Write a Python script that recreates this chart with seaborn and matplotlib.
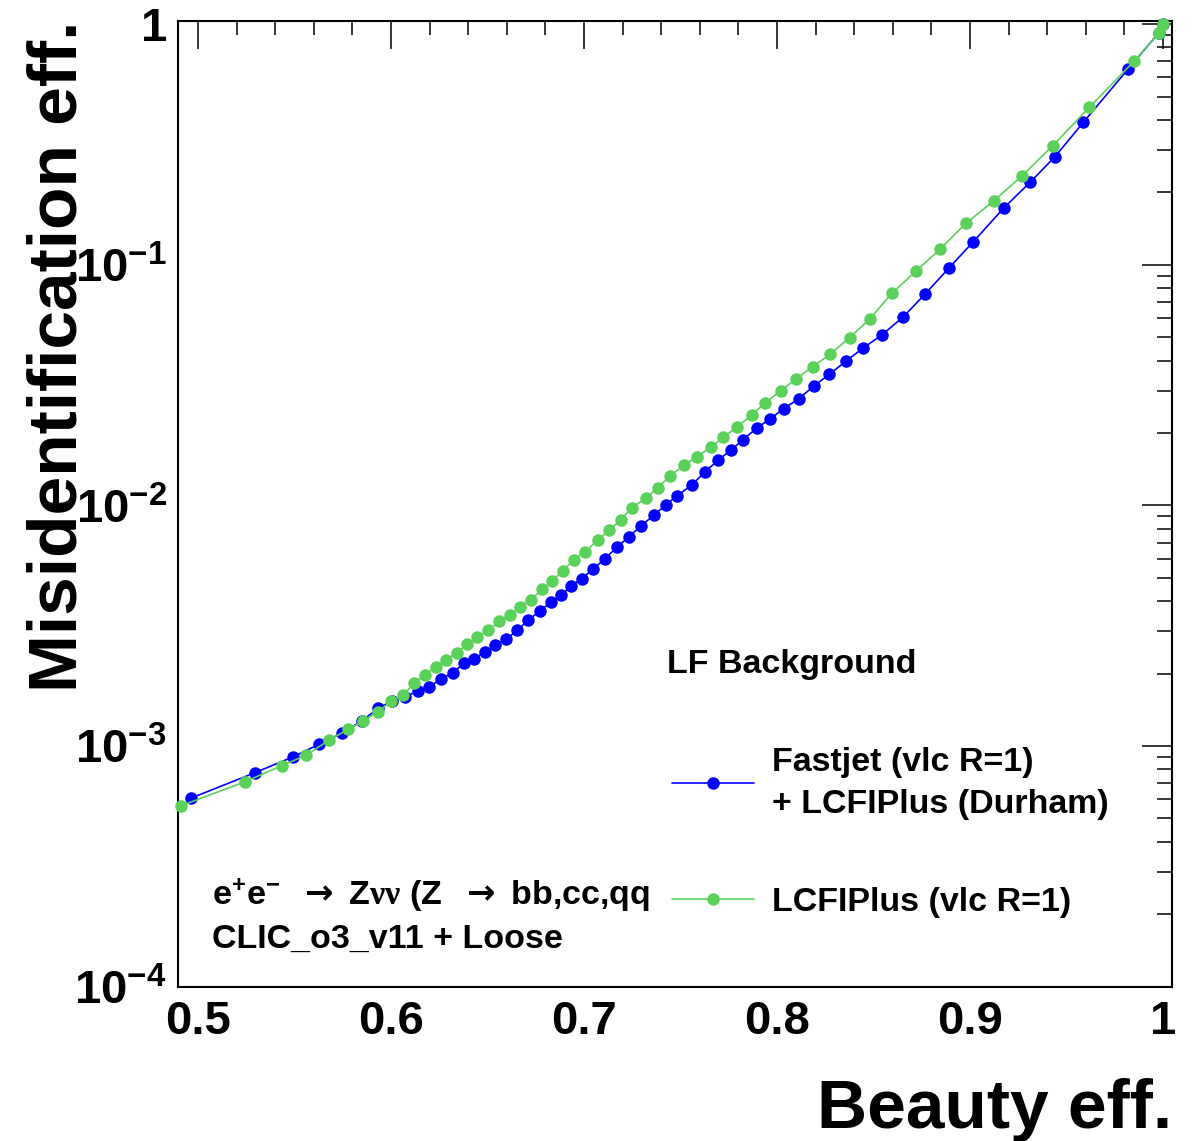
import matplotlib
matplotlib.use("Agg")
import numpy as np
import pandas as pd
import matplotlib.pyplot as plt
import seaborn as sns
from matplotlib.ticker import FixedLocator, FixedFormatter, MultipleLocator, LogLocator, NullFormatter

# ---------------- data ----------------
fastjet_beff = [0.4962, 0.5295, 0.5494, 0.5628, 0.5745, 0.5848, 0.5934, 0.6004, 0.6073, 0.6141,
                0.6198, 0.6259, 0.6319, 0.6377, 0.6432, 0.6486, 0.6539, 0.6596, 0.6653, 0.6711,
                0.6772, 0.6827, 0.6880, 0.6931, 0.6988, 0.7047, 0.7107, 0.7169, 0.7233, 0.7294,
                0.7363, 0.7423, 0.7480, 0.7558, 0.7627, 0.7696, 0.7762, 0.7822, 0.7895, 0.7962,
                0.8035, 0.8112, 0.8192, 0.8271, 0.8358, 0.8446, 0.8542, 0.8653, 0.8767, 0.8889,
                0.9017, 0.9176, 0.9311, 0.9440, 0.9587, 0.9820, 0.9979, 1.0]
fastjet_mis = [6.07e-4, 7.75e-4, 9.03e-4, 1.018e-3, 1.13e-3, 1.272e-3, 1.435e-3, 1.54e-3, 1.604e-3, 1.694e-3,
               1.76e-3, 1.90e-3, 2.012e-3, 2.208e-3, 2.296e-3, 2.467e-3, 2.63e-3, 2.778e-3, 3.022e-3, 3.332e-3,
               3.649e-3, 3.95e-3, 4.224e-3, 4.612e-3, 4.965e-3, 5.43e-3, 6.0e-3, 6.685e-3, 7.41e-3, 8.21e-3,
               9.12e-3, 1.004e-2, 1.094e-2, 1.215e-2, 1.38e-2, 1.544e-2, 1.70e-2, 1.869e-2, 2.097e-2, 2.28e-2,
               2.525e-2, 2.772e-2, 3.14e-2, 3.504e-2, 3.98e-2, 4.507e-2, 5.10e-2, 6.06e-2, 7.55e-2, 9.66e-2,
               0.1246, 0.1725, 0.22, 0.281, 0.3905, 0.652, 0.922, 1.0]

lcfi_beff = [0.4910, 0.5244, 0.5434, 0.5560, 0.5680, 0.5779, 0.5856, 0.5932, 0.6000, 0.6062,
             0.6118, 0.6176, 0.6233, 0.6287, 0.6342, 0.6394, 0.6447, 0.6503, 0.6561, 0.6615,
             0.6668, 0.6727, 0.6781, 0.6836, 0.6889, 0.6946, 0.7003, 0.7070, 0.7131, 0.7190,
             0.7247, 0.7320, 0.7382, 0.7446, 0.7520, 0.7584, 0.7658, 0.7722, 0.7794, 0.7869,
             0.7938, 0.8019, 0.8098, 0.8185, 0.8275, 0.8376, 0.8480, 0.8594, 0.8719, 0.8845,
             0.8979, 0.9124, 0.9268, 0.9428, 0.9618, 0.9851, 0.9978, 1.0]
lcfi_mis = [5.64e-4, 7.11e-4, 8.29e-4, 9.16e-4, 1.06e-3, 1.174e-3, 1.272e-3, 1.39e-3, 1.532e-3, 1.623e-3,
            1.823e-3, 1.974e-3, 2.137e-3, 2.288e-3, 2.443e-3, 2.651e-3, 2.84e-3, 3.025e-3, 3.297e-3, 3.504e-3,
            3.794e-3, 4.064e-3, 4.481e-3, 4.852e-3, 5.35e-3, 5.913e-3, 6.42e-3, 7.15e-3, 7.9e-3, 8.70e-3,
            9.78e-3, 1.07e-2, 1.184e-2, 1.325e-2, 1.472e-2, 1.594e-2, 1.744e-2, 1.918e-2, 2.123e-2, 2.374e-2,
            2.668e-2, 2.996e-2, 3.35e-2, 3.77e-2, 4.243e-2, 4.983e-2, 5.94e-2, 7.6e-2, 9.39e-2, 0.1162,
            0.1486, 0.1845, 0.2336, 0.312, 0.4508, 0.702, 0.918, 1.0]

series_labels = ["Fastjet (vlc R=1)\n+ LCFIPlus (Durham)", "LCFIPlus (vlc R=1)"]
series_colors = ["#0000FF", "#5AD25A"]
x_ticks = [0.5, 0.6, 0.7, 0.8, 0.9, 1.0]
x_tick_labels = ["0.5", "0.6", "0.7", "0.8", "0.9", "1"]
y_ticks = [1e-4, 1e-3, 1e-2, 1e-1, 1.0]
y_tick_labels = [r"$10^{-4}$", r"$10^{-3}$", r"$10^{-2}$", r"$10^{-1}$", "1"]
x_title = "Beauty eff."
y_title = "Misidentification eff."
bkg_text = "LF Background"
proc_text = r"e$^{+}$e$^{-}$  $\mathsf{\rightarrow}$ Z$\mathtt{\nu\nu}$ (Z  $\mathsf{\rightarrow}$ bb,cc,qq"
det_text = "CLIC_o3_v11 + Loose"

# ---------------- style ----------------
sns.set_style("white")
plt.rcParams["font.family"] = ["Liberation Sans", "DejaVu Sans"]
plt.rcParams["font.weight"] = "bold"
plt.rcParams["text.color"] = "black"
plt.rcParams["axes.labelcolor"] = "black"
plt.rcParams["xtick.color"] = "black"
plt.rcParams["ytick.color"] = "black"
plt.rcParams["mathtext.fontset"] = "custom"
plt.rcParams["mathtext.rm"] = "Liberation Sans:bold"
plt.rcParams["mathtext.bf"] = "Liberation Sans:bold"
plt.rcParams["mathtext.it"] = "Liberation Sans:bold"
plt.rcParams["mathtext.sf"] = "DejaVu Sans"
plt.rcParams["mathtext.tt"] = "Liberation Serif"
plt.rcParams["mathtext.default"] = "rm"

W, H = 1198, 1141
fig = plt.figure(figsize=(W / 100, H / 100), dpi=100)
L, R, T, B = 178, 1171.7, 21, 986.7
ax = fig.add_axes([L / W, (H - B) / H, (R - L) / W, (B - T) / H])

df_fj = pd.DataFrame({"beff": fastjet_beff, "mis": fastjet_mis})
df_lc = pd.DataFrame({"beff": lcfi_beff, "mis": lcfi_mis})

sns.lineplot(data=df_fj, x="beff", y="mis", ax=ax, color=series_colors[0], marker="o",
             markersize=9, markeredgewidth=0, linewidth=1.2, estimator=None,
             clip_on=False, legend=False, zorder=3)
sns.lineplot(data=df_lc, x="beff", y="mis", ax=ax, color=series_colors[1], marker="o",
             markersize=9, markeredgewidth=0, linewidth=1.2, estimator=None,
             clip_on=False, legend=False, zorder=4)

ax.set_yscale("log")
ax.set_xlim(0.4896, 1.0045)
ax.set_ylim(1e-4, 1.03)

ax.xaxis.set_major_locator(FixedLocator(x_ticks))
ax.xaxis.set_major_formatter(FixedFormatter(x_tick_labels))
ax.xaxis.set_minor_locator(MultipleLocator(0.02))
ax.yaxis.set_major_locator(FixedLocator(y_ticks))
ax.yaxis.set_major_formatter(FixedFormatter(y_tick_labels))
ax.yaxis.set_minor_locator(LogLocator(base=10, subs=np.arange(2, 10), numticks=30))
ax.yaxis.set_minor_formatter(NullFormatter())

ax.tick_params(which="both", direction="in", top=True, right=True, width=1.1, colors="black")
ax.tick_params(axis="x", which="major", length=20.5, labelsize=34, pad=9.5)
ax.tick_params(axis="x", which="minor", length=10.2)
ax.tick_params(axis="y", which="major", length=21.5, labelsize=34, pad=8)
ax.tick_params(axis="y", which="minor", length=10.8)
for lab in ax.get_xticklabels() + ax.get_yticklabels():
    lab.set_fontweight("bold")
    lab.set_color("black")

for sp in ax.spines.values():
    sp.set_linewidth(1.5)
    sp.set_color("black")

ax.set_xlabel(x_title, fontsize=50, fontweight="bold", loc="right", color="black")
ax.set_ylabel(y_title, fontsize=50, fontweight="bold", loc="top", color="black")
ax.xaxis.set_label_coords(1.0, -0.0945)
ax.yaxis.set_label_coords(-0.0885, 1.0)

fig.text(667 / W, 1 - 673 / H, bkg_text, fontsize=24.5, fontweight="bold", ha="left", va="baseline")
fig.text(212 / W, 1 - 905 / H, proc_text, fontsize=24.5, fontweight="bold", ha="left", va="baseline")
fig.text(212 / W, 1 - 948 / H, det_text, fontsize=24.5, fontweight="bold", ha="left", va="baseline")

leg = ax.legend(handles=ax.lines[:2], labels=series_labels, loc="upper left",
                bbox_to_anchor=(672 / W, 1 - 747 / H), bbox_transform=fig.transFigure,
                frameon=False, fontsize=24.5, handlelength=2.4, handletextpad=0.54,
                borderpad=0, borderaxespad=0, labelspacing=1.98)
for t in leg.get_texts():
    t.set_fontweight("bold")
    t.set_color("black")
    t.set_linespacing(1.45)

fig.savefig("out.png", dpi=100, facecolor="white")
